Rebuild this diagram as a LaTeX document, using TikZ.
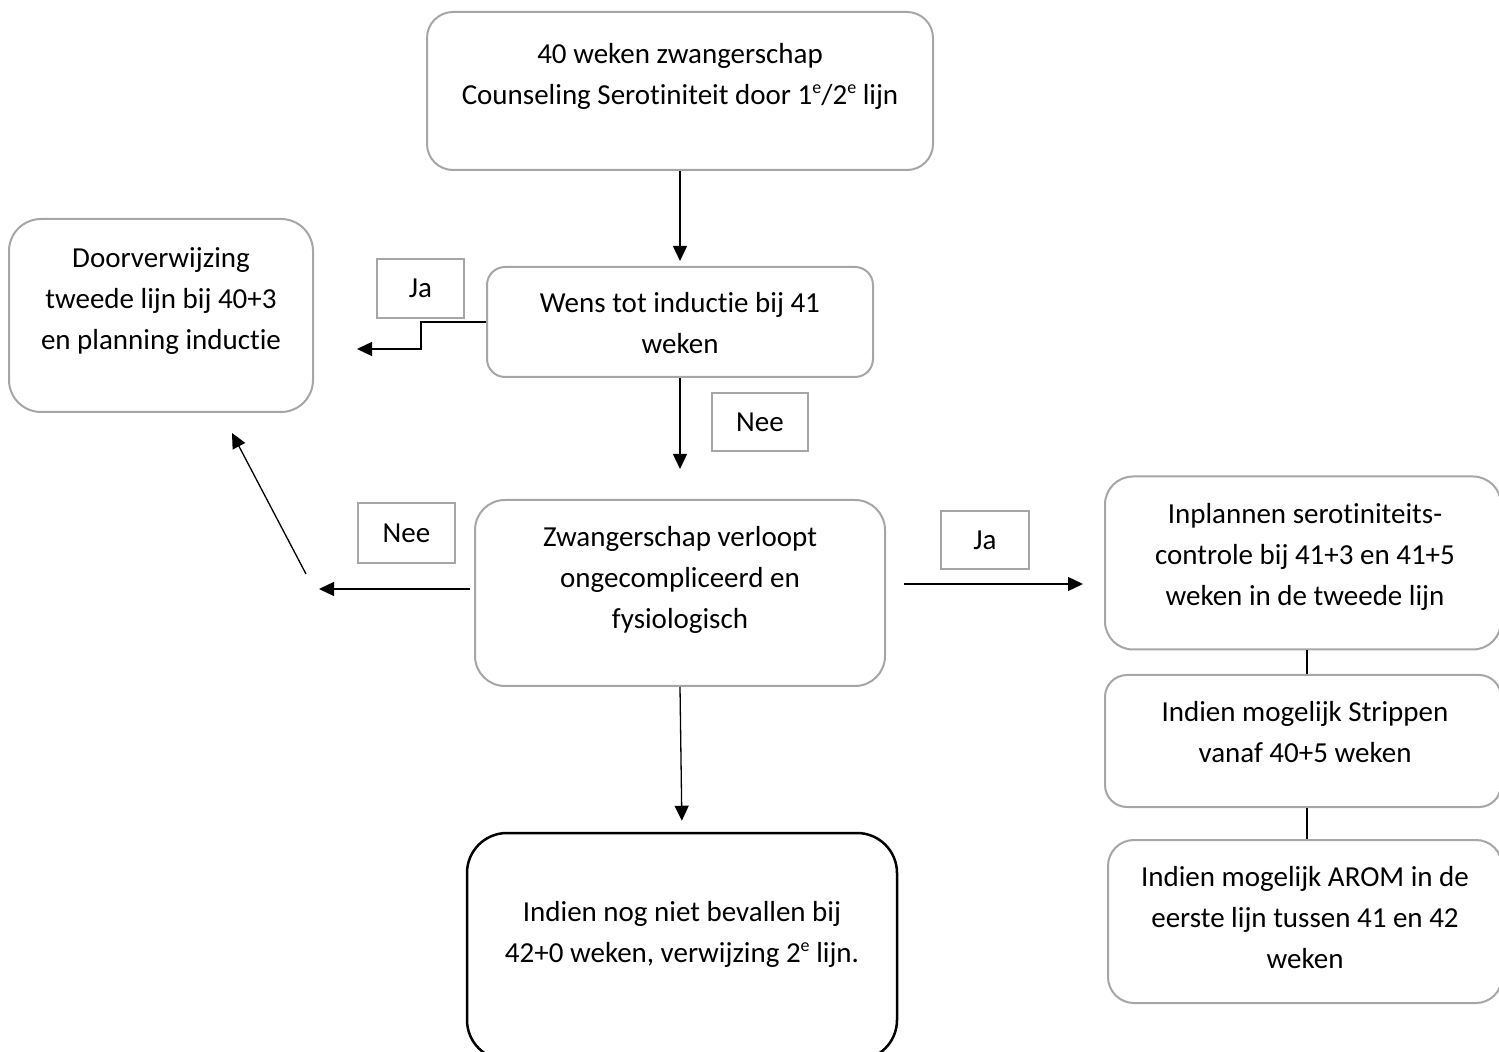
\documentclass[tikz,border=0pt]{standalone}
\usepackage{fontspec}
\setmainfont{Carlito}[Ligatures=NoCommon]
\usepackage{tikz}
\definecolor{boxgray}{RGB}{166, 166, 166}
\usetikzlibrary{arrows.meta}

\newcommand{\flowfont}{\fontsize{14.5pt}{20.5pt}\selectfont}
\newcommand{\ordsup}[1]{\raisebox{0.75ex}{\fontsize{9pt}{9pt}\selectfont #1}}

\begin{document}
\begin{tikzpicture}[every node/.style={inner sep=0pt},
  flowbox/.style={rectangle, draw=boxgray, line width=1pt, rounded corners=13pt},
  answer/.style={rectangle, draw=boxgray, line width=1pt, font=\flowfont},
  flowtext/.style={align=center, font=\flowfont},
  link/.style={line width=0.65pt, -{Triangle[length=7.5pt, width=7pt]}},
  joint/.style={line width=0.65pt}]
\useasboundingbox (0pt, 0pt) rectangle (749.5pt, -526pt);
\clip (0pt, 0pt) rectangle (749.5pt, -526pt);
% boxes
\node (start) [flowbox, minimum width=253pt, minimum height=79pt] at (340pt, -45.5pt) {};
\node (wens) [flowbox, rounded corners=9pt, minimum width=193pt, minimum height=55pt] at (340pt, -161pt) {};
\node (verwijs) [flowbox, rounded corners=16pt, minimum width=152pt, minimum height=96.5pt] at (80.5pt, -157.75pt) {};
\node (zwanger) [flowbox, rounded corners=15pt, minimum width=205pt, minimum height=93pt] at (340pt, -296.5pt) {};
\node (plannen) [flowbox, rounded corners=14pt, minimum width=198pt, minimum height=86.5pt] at (651.5pt, -281.5pt) {};
\node (strippen) [flowbox, rounded corners=11pt, minimum width=198pt, minimum height=66pt] at (651.5pt, -370.5pt) {};
\node (arom) [flowbox, rounded corners=13pt, minimum width=197pt, minimum height=81.5pt] at (652.5pt, -460.75pt) {};
\node (einde) [rectangle, draw=black, line width=1.25pt, rounded corners=20pt, minimum width=215pt, minimum height=113.5pt] at (341pt, -473.25pt) {};
% texts
\node (starttxt) [flowtext] at (340pt, -38pt) {40 weken zwangerschap\\Counseling Serotiniteit door 1\ordsup{e}/2\ordsup{e} lijn};
\node (wenstxt) [flowtext] at (340pt, -161.5pt) {Wens tot inductie bij 41\\weken};
\node (verwijstxt) [flowtext] at (80.5pt, -150.5pt) {Doorverwijzing\\tweede lijn bij 40+3\\en planning inductie};
\node (zwangertxt) [flowtext] at (340pt, -290pt) {Zwangerschap verloopt\\ongecompliceerd en\\fysiologisch};
\node (plannentxt) [flowtext] at (652.5pt, -278.5pt) {Inplannen serotiniteits-\\controle bij 41+3 en 41+5\\weken in de tweede lijn};
\node (strippentxt) [flowtext] at (652.5pt, -366.25pt) {Indien mogelijk Strippen\\vanaf 40+5 weken};
\node (aromtxt) [flowtext] at (652.5pt, -459pt) {Indien mogelijk AROM in de\\eerste lijn tussen 41 en 42\\weken};
\node (eindetxt) [flowtext] at (341pt, -467pt) {Indien nog niet bevallen bij\\42+0 weken, verwijzing 2\ordsup{e} lijn.};
% answers
\node (ja1) [answer, minimum width=43.5pt, minimum height=29.5pt] at (210.25pt, -144.25pt) {Ja};
\node (nee1) [answer, minimum width=48pt, minimum height=29pt] at (380pt, -211pt) {Nee};
\node (nee2) [answer, minimum width=48.5pt, minimum height=30pt] at (203.25pt, -266.5pt) {Nee};
\node (ja2) [answer, minimum width=44pt, minimum height=29pt] at (492.5pt, -270pt) {Ja};
\coordinate (jaend) at (178.5pt, -174.5pt);
\coordinate (neeend) at (159.5pt, -294.5pt);
\coordinate (diagstart) at (153pt, -287pt);
\coordinate (diagend) at (116pt, -216.5pt);
% connectors
\draw [link, shorten >=2.5pt] (start) to (wens);
\draw [link] (wens.west) -- ++(-32.5pt, 0pt) |- (jaend);
\draw [link, shorten >=15pt] (wens) to (zwanger);
\draw [link, shorten <=2pt] ([yshift=2pt]zwanger.west) -- (neeend);
\draw [link] (diagstart) -- (diagend);
\draw [link, shorten <=9pt, shorten >=10.5pt] ([yshift=4.5pt]zwanger.east) -- ([yshift=4.5pt]zwanger.east -| plannen.west);
\draw [link, shorten >=5.5pt] (zwanger.south) -- (einde.north);
\draw [joint] ([xshift=2pt]plannen.south) -- ([xshift=2pt]strippen.north);
\draw [joint] ([xshift=2pt]strippen.south) -- ([xshift=1pt]arom.north);
\end{tikzpicture}
\end{document}
